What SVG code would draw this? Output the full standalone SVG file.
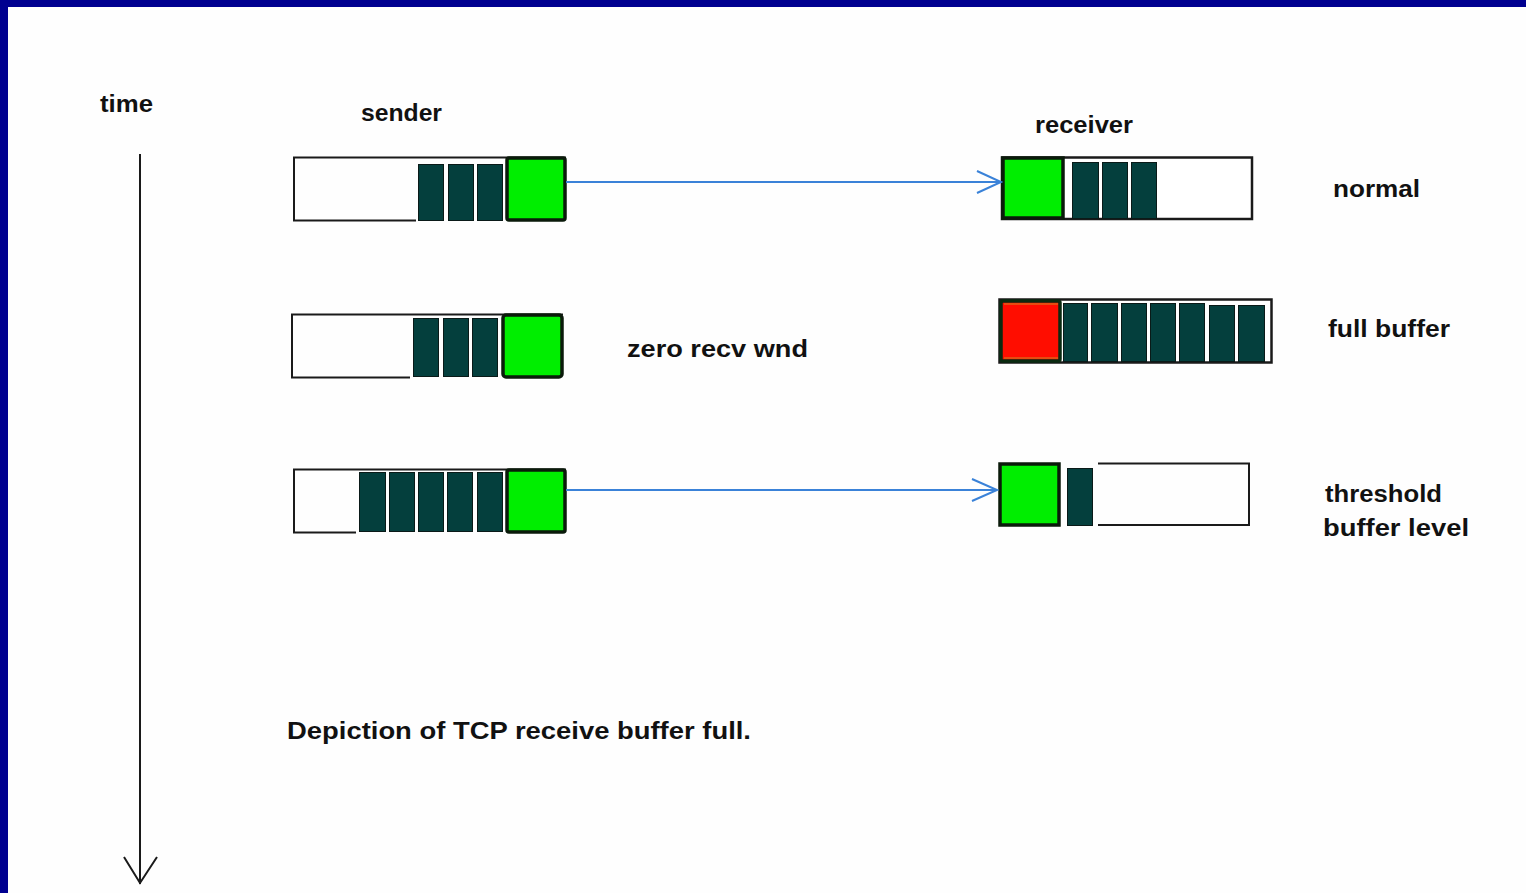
<svg xmlns="http://www.w3.org/2000/svg" width="1526" height="893" viewBox="0 0 1526 893">
<style>
.lbl{font-family:"Liberation Sans",Arial,sans-serif;font-weight:bold;font-size:23px;fill:#111}
.out{fill:#fff;stroke:#1a1a1a;stroke-width:2.5}
.blk{fill:#043f3d;stroke:#0a1a18;stroke-width:1}
.grn{fill:#00ee00;stroke:#0a1a0a;stroke-width:3.5}
.red{fill:#ff0d00;stroke:#0a2a10;stroke-width:3.5}
.ln{fill:none;stroke:#1a1a1a;stroke-width:2}
.msg{fill:none;stroke:#3a82d8;stroke-width:2}
</style>
<rect x="0" y="0" width="1526" height="893" fill="#fefefe"/>
<rect x="0" y="0" width="1526" height="7" fill="#000090"/>
<rect x="0" y="0" width="8" height="893" fill="#000090"/>

<g id="time-axis">
<text class="lbl" x="100" y="112" textLength="53" lengthAdjust="spacingAndGlyphs">time</text>
<line class="ln" x1="140" y1="154" x2="140" y2="884"/>
<polyline class="ln" points="124,857 140,883 157,857"/>
</g>

<g id="labels">
<text class="lbl" x="361" y="121" textLength="81" lengthAdjust="spacingAndGlyphs">sender</text>
<text class="lbl" x="1035" y="133" textLength="98" lengthAdjust="spacingAndGlyphs">receiver</text>
</g>

<g id="sender1">
<polyline class="ln" points="416,220.5 294,220.5 294,157.5 566,157.5"/>
<rect class="blk" x="418.5" y="164.5" width="25" height="56"/>
<rect class="blk" x="448.5" y="164.5" width="25" height="56"/>
<rect class="blk" x="477.5" y="164.5" width="25" height="56"/>
<rect class="grn" x="507" y="158" width="58" height="62" rx="2"/>
</g>

<g id="receiver1">
<rect class="out" x="1002" y="157.5" width="250" height="61.5"/>
<rect class="grn" x="1003" y="158" width="60" height="60"/>
<rect class="blk" x="1072.5" y="162.5" width="26" height="56"/>
<rect class="blk" x="1102.5" y="162.5" width="25" height="56"/>
<rect class="blk" x="1131.5" y="162.5" width="25" height="56"/>
<text class="lbl" x="1333" y="197" textLength="87" lengthAdjust="spacingAndGlyphs">normal</text>
</g>

<g id="sender2">
<polyline class="ln" points="410,377.5 292,377.5 292,314.5 563,314.5"/>
<rect class="blk" x="413.5" y="318.5" width="25" height="58"/>
<rect class="blk" x="443.5" y="318.5" width="25" height="58"/>
<rect class="blk" x="472.5" y="318.5" width="25" height="58"/>
<rect class="grn" x="503" y="315" width="59" height="62" rx="3"/>
<text class="lbl" x="627" y="357" textLength="181" lengthAdjust="spacingAndGlyphs">zero recv wnd</text>
</g>

<g id="receiver2">
<rect class="out" x="999.5" y="299.5" width="272" height="63"/>
<rect class="red" x="1001" y="301" width="59" height="60" rx="2"/>
<line x1="1004" y1="304" x2="1058" y2="304" stroke="#d08a20" stroke-width="1.2"/>
<line x1="1004" y1="358" x2="1058" y2="358" stroke="#d08a20" stroke-width="1.2"/>
<rect class="blk" x="1063.5" y="303.5" width="24" height="58"/>
<rect class="blk" x="1091.5" y="303.5" width="26" height="58"/>
<rect class="blk" x="1121.5" y="303.5" width="25" height="58"/>
<rect class="blk" x="1150.5" y="303.5" width="25" height="58"/>
<rect class="blk" x="1179.5" y="303.5" width="25" height="58"/>
<rect class="blk" x="1209.5" y="305.5" width="25" height="56"/>
<rect class="blk" x="1238.5" y="305.5" width="26" height="56"/>
<text class="lbl" x="1328" y="337" textLength="122" lengthAdjust="spacingAndGlyphs">full buffer</text>
</g>

<g id="sender3">
<polyline class="ln" points="356,532.5 294,532.5 294,469.5 566,469.5"/>
<rect class="blk" x="359.5" y="472.5" width="26" height="59"/>
<rect class="blk" x="389.5" y="472.5" width="25" height="59"/>
<rect class="blk" x="418.5" y="472.5" width="25" height="59"/>
<rect class="blk" x="447.5" y="472.5" width="25" height="59"/>
<rect class="blk" x="477.5" y="472.5" width="25" height="59"/>
<rect class="grn" x="507" y="470" width="58" height="62" rx="2"/>
</g>

<g id="receiver3">
<polyline class="ln" points="1098,463.5 1249,463.5 1249,525 1098,525"/>
<rect class="grn" x="1000" y="464" width="59" height="61"/>
<rect class="blk" x="1067.5" y="468.5" width="25" height="57"/>
<text class="lbl" x="1325" y="502" textLength="117" lengthAdjust="spacingAndGlyphs">threshold</text>
<text class="lbl" x="1323" y="536" textLength="146" lengthAdjust="spacingAndGlyphs">buffer level</text>
</g>

<g id="connectors">
<line class="msg" x1="566" y1="182" x2="1001" y2="182"/>
<polyline class="msg" points="977,171 1001,182 977,193"/>
<line class="msg" x1="566" y1="490" x2="997" y2="490"/>
<polyline class="msg" points="972,479 997,490 972,501"/>
</g>

<g id="caption">
<text class="lbl" x="287" y="739" textLength="464" lengthAdjust="spacingAndGlyphs">Depiction of TCP receive buffer full.</text>
</g>
</svg>
